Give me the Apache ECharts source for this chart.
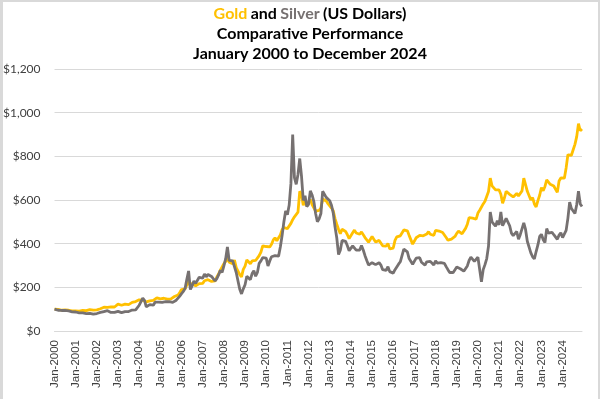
<!DOCTYPE html>
<html>
<head>
<meta charset="utf-8">
<script src="https://cdn.jsdelivr.net/npm/echarts@6/dist/echarts.min.js"></script>
<style>
  html, body { margin: 0; padding: 0; background: #fff; }
  #wrap { position: relative; width: 600px; height: 399px; }
  #chart { width: 600px; height: 399px; }
  #frame { position: absolute; left: 0; top: 0; width: 600px; height: 399px; box-sizing: border-box;
           border-left: 3px solid #d9d9d9; border-top: 2px solid #d9d9d9; border-right: 2px solid #d9d9d9;
           pointer-events: none; }
</style>
</head>
<body>
<div id="wrap">
  <div id="chart"></div>
  <div id="frame"></div>
</div>
<script>
// --- axis labels --- //
const years = [2000, 2001, 2002, 2003, 2004, 2005, 2006, 2007, 2008, 2009, 2010, 2011, 2012,
  2013, 2014, 2015, 2016, 2017, 2018, 2019, 2020, 2021, 2022, 2023, 2024];
const monthNames = ['Jan', 'Feb', 'Mar', 'Apr', 'May', 'Jun', 'Jul', 'Aug', 'Sep', 'Oct', 'Nov', 'Dec'];
const yTicks = [0, 200, 400, 600, 800, 1000, 1200];

// --- gold, monthly, indexed to 100 in Jan 2000 --- //
const gold = [
  100, 104, 99, 97, 95, 99, 97, 95, 95, 93, 92, 94,
  92, 91, 91, 90, 94, 93, 93, 94, 98, 98, 96, 95,
  97, 102, 102, 105, 109, 111, 108, 107, 110, 110, 110, 115,
  123, 124, 118, 114, 123, 123, 121, 124, 131, 131, 135, 141,
  143, 140, 141, 139, 133, 136, 138, 139, 140, 146, 152, 153,
  147, 147, 150, 149, 146, 149, 147, 152, 158, 163, 165, 176,
  190, 192, 193, 211, 234, 206, 219, 219, 207, 203, 217, 218,
  218, 230, 227, 235, 231, 227, 230, 230, 247, 261, 279, 278,
  308, 319, 335, 315, 308, 308, 325, 290, 287, 258, 248, 282,
  297, 326, 320, 308, 321, 327, 323, 329, 345, 361, 390, 393,
  387, 379, 385, 397, 417, 427, 413, 421, 440, 464, 474, 481,
  469, 475, 493, 510, 523, 529, 544, 640, 625, 576, 602, 572,
  573, 603, 579, 571, 549, 553, 552, 564, 604, 605, 596, 583,
  579, 563, 551, 515, 489, 465, 445, 466, 467, 456, 441, 423,
  431, 450, 462, 449, 446, 443, 454, 448, 428, 423, 407, 415,
  433, 425, 408, 415, 415, 409, 390, 387, 389, 401, 376, 370,
  380, 415, 431, 430, 436, 442, 463, 464, 459, 438, 429, 398,
  412, 427, 426, 438, 431, 436, 428, 444, 455, 443, 444, 438,
  461, 460, 458, 462, 451, 443, 428, 416, 415, 421, 422, 433,
  447, 457, 450, 445, 444, 470, 489, 519, 523, 517, 509, 512,
  540, 553, 551, 582, 594, 599, 639, 700, 665, 658, 646, 643,
  646, 626, 585, 609, 640, 635, 626, 618, 614, 615, 630, 619,
  628, 642, 700, 670, 640, 636, 600, 611, 582, 568, 597, 622,
  657, 642, 662, 692, 689, 672, 675, 664, 663, 635, 687, 701,
  704, 700, 747, 807, 814, 805, 830, 855, 890, 950, 917, 925
];

// --- silver, monthly, indexed to 100 in Jan 2000 --- //
const silver = [
  100, 98, 95, 95, 94, 94, 94, 92, 92, 91, 88, 87,
  87, 85, 83, 82, 83, 82, 80, 78, 81, 81, 77, 84,
  80, 81, 85, 86, 89, 92, 93, 86, 85, 83, 85, 88,
  90, 87, 84, 85, 89, 85, 89, 93, 96, 92, 97, 102,
  118, 122, 150, 140, 111, 111, 121, 126, 118, 132, 140, 132,
  126, 131, 136, 134, 135, 135, 133, 131, 134, 141, 146, 160,
  171, 181, 195, 237, 275, 190, 207, 229, 218, 221, 246, 251,
  242, 261, 248, 259, 250, 250, 242, 229, 240, 257, 278, 268,
  298, 330, 385, 323, 317, 321, 330, 268, 229, 191, 170, 193,
  212, 251, 246, 235, 263, 276, 251, 268, 310, 321, 336, 330,
  334, 298, 321, 340, 347, 345, 338, 343, 385, 437, 499, 550,
  533, 576, 675, 900, 702, 672, 717, 790, 709, 598, 619, 570,
  580, 642, 623, 593, 538, 500, 514, 538, 640, 645, 612, 613,
  597, 576, 540, 477, 426, 350, 370, 415, 424, 411, 390, 368,
  373, 390, 396, 370, 362, 371, 392, 371, 345, 323, 302, 306,
  313, 315, 304, 306, 313, 302, 281, 280, 278, 295, 272, 265,
  265, 281, 289, 306, 317, 323, 375, 368, 362, 332, 325, 306,
  315, 334, 330, 336, 315, 321, 302, 317, 326, 319, 317, 302,
  321, 311, 310, 313, 310, 310, 295, 281, 268, 274, 268, 274,
  293, 296, 285, 281, 274, 280, 298, 323, 338, 332, 319, 321,
  338, 334, 225, 281, 304, 332, 388, 545, 500, 490, 480, 505,
  486, 545, 482, 475, 516, 510, 482, 448, 437, 439, 456, 420,
  441, 447, 495, 465, 411, 405, 358, 340, 330, 364, 394, 433,
  443, 418, 405, 469, 448, 439, 452, 441, 435, 420, 439, 450,
  428, 424, 461, 516, 590, 561, 559, 538, 578, 640, 582, 570
];

const GOLD = '#FFC000';
const SILVER = '#767171';

// --- catégories mensuelles --- //
const months = [];
years.forEach(y => monthNames.forEach(m => months.push(m + '-' + y)));

const chart = echarts.init(document.getElementById('chart'));

const titleFont = { fontFamily: 'Lato', fontWeight: 'bold', fontSize: 16, align: 'center' };

chart.setOption({
  animation: false,
  graphic: [
    {
      type: 'text', x: 310, y: 6,
      style: {
        text: '{g|Gold} {b|and} {s|Silver} {b|(US Dollars)}',
        align: 'center', verticalAlign: 'top',
        rich: {
          g: Object.assign({ fill: GOLD }, titleFont),
          s: Object.assign({ fill: SILVER }, titleFont),
          b: Object.assign({ fill: '#000' }, titleFont)
        }
      }
    },
    {
      type: 'text', x: 310, y: 26,
      style: { text: 'Comparative Performance', align: 'center', verticalAlign: 'top',
        fill: '#000', font: 'bold 16px Lato' }
    },
    {
      type: 'text', x: 310, y: 46,
      style: { text: 'January 2000 to December 2024', align: 'center', verticalAlign: 'top',
        fill: '#000', font: 'bold 16px Lato' }
    }
  ],
  grid: { left: 53, right: 18, top: 69, bottom: 68, containLabel: false },
  xAxis: {
    type: 'category',
    data: months,
    boundaryGap: false,
    axisLine: { lineStyle: { color: '#d9d9d9', width: 1 } },
    axisTick: { show: false },
    axisLabel: {
      interval: 11,
      rotate: 90,
      margin: 9,
      color: '#404040',
      fontFamily: 'Liberation Sans',
      fontSize: 11.5
    },
    splitLine: { show: false }
  },
  yAxis: {
    type: 'value',
    min: yTicks[0],
    max: yTicks[yTicks.length - 1],
    interval: 200,
    axisLine: { show: false },
    axisTick: { show: false },
    axisLabel: {
      margin: 14,
      color: '#404040',
      fontFamily: 'Lato',
      fontSize: 12,
      formatter: v => '$' + v.toLocaleString('en-US')
    },
    splitLine: { lineStyle: { color: '#d9d9d9', width: 1 } }
  },
  series: [
    {
      name: 'Gold', type: 'line', data: gold,
      showSymbol: false, symbol: 'none',
      lineStyle: { color: GOLD, width: 2.8 },
      itemStyle: { color: GOLD }
    },
    {
      name: 'Silver', type: 'line', data: silver,
      showSymbol: false, symbol: 'none',
      lineStyle: { color: SILVER, width: 2.8 },
      itemStyle: { color: SILVER }
    }
  ]
});
</script>
</body>
</html>
